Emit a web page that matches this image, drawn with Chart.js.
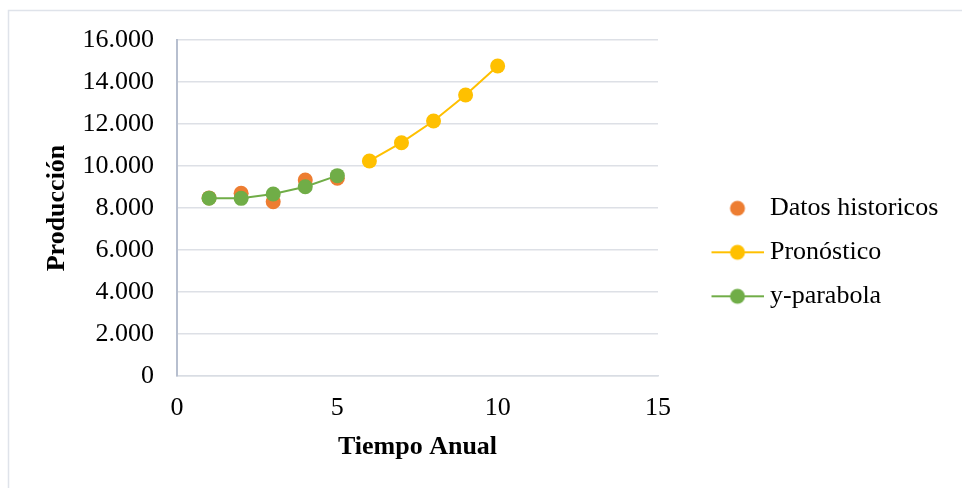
<!DOCTYPE html>
<html>
<head>
<meta charset="utf-8">
<script src="https://cdn.jsdelivr.net/npm/chart.js@4.4.1/dist/chart.umd.min.js"></script>
<style>
  html, body { margin: 0; padding: 0; background: #ffffff; }
  canvas { display: block; }
</style>
</head>
<body>
<canvas id="chart" width="962" height="488"></canvas>
<script>
// Series data
const historicYears   = [1, 2, 3, 4, 5];
const historicValues  = [8480, 8700, 8300, 9330, 9420];
const forecastYears   = [6, 7, 8, 9, 10];
const forecastValues  = [10240, 11110, 12140, 13380, 14760];
const parabolaYears   = [1, 2, 3, 4, 5];
const parabolaValues  = [8470, 8460, 8670, 9010, 9540];

// Labels
const seriesNames  = ['Datos historicos', 'Pronóstico', 'y-parabola'];
const yTickLabels  = ['0', '2.000', '4.000', '6.000', '8.000', '10.000', '12.000', '14.000', '16.000'];
const xTickLabels  = ['0', '5', '10', '15'];
const xAxisTitle   = 'Tiempo Anual';
const yAxisTitle   = 'Producción';

const COLORS = { historic: '#ED7D31', forecast: '#FFC000', parabola: '#70AD47' };
const FONT_FAMILY = "'Liberation Serif', 'Times New Roman', serif";
const FONT_SIZE = 26;

// Legend geometry
const LEGEND_PADDING = 18;
const LEGEND_SYMBOL_WIDTH = 81;
const PLOT_RIGHT = 658;

function toPoints(xs, ys) {
  return xs.map((x, i) => ({ x: x, y: ys[i] }));
}

// Legend symbols: a dot, or a short line with a dot in the middle
function legendMarker(color, withLine) {
  const c = document.createElement('canvas');
  c.width = 94; c.height = 20;
  const g = c.getContext('2d');
  if (withLine) {
    g.strokeStyle = color;
    g.lineWidth = 2;
    g.beginPath(); g.moveTo(42, 10); g.lineTo(94, 10); g.stroke();
  }
  g.fillStyle = color;
  g.beginPath(); g.arc(68, 10, 7.5, 0, Math.PI * 2); g.fill();
  return c;
}
const legendMarkers = [
  legendMarker(COLORS.historic, false),
  legendMarker(COLORS.forecast, true),
  legendMarker(COLORS.parabola, true)
];

// Width the legend box will take, so the plot keeps its right edge
const measureCtx = document.createElement('canvas').getContext('2d');
measureCtx.font = FONT_SIZE + 'px ' + FONT_FAMILY;
const widestLabel = Math.max(...seriesNames.map(s => measureCtx.measureText(s).width));
const legendWidth = LEGEND_PADDING + LEGEND_SYMBOL_WIDTH + FONT_SIZE / 2 + widestLabel + 10;
const rightPadding = Math.max(0, 962 - PLOT_RIGHT - legendWidth);

// Light frame around the chart
const framePlugin = {
  id: 'frame',
  beforeDraw(chart) {
    const ctx = chart.ctx;
    ctx.save();
    ctx.strokeStyle = '#dfe3ea';
    ctx.lineWidth = 1.5;
    ctx.beginPath();
    ctx.moveTo(8.5, chart.height);
    ctx.lineTo(8.5, 10.5);
    ctx.lineTo(chart.width, 10.5);
    ctx.stroke();
    ctx.restore();
  }
};

Chart.defaults.font.family = FONT_FAMILY;
Chart.defaults.font.size = FONT_SIZE;
Chart.defaults.color = '#000000';

new Chart(document.getElementById('chart'), {
  type: 'scatter',
  data: {
    datasets: [
      {
        label: seriesNames[0],
        data: toPoints(historicYears, historicValues),
        showLine: false,
        backgroundColor: COLORS.historic,
        borderColor: COLORS.historic,
        pointRadius: 7.5,
        pointBorderWidth: 0,
        order: 2
      },
      {
        label: seriesNames[1],
        data: toPoints(forecastYears, forecastValues),
        showLine: true,
        borderWidth: 2,
        backgroundColor: COLORS.forecast,
        borderColor: COLORS.forecast,
        pointRadius: 7.5,
        pointBorderWidth: 0,
        tension: 0,
        order: 1
      },
      {
        label: seriesNames[2],
        data: toPoints(parabolaYears, parabolaValues),
        showLine: true,
        borderWidth: 2,
        backgroundColor: COLORS.parabola,
        borderColor: COLORS.parabola,
        pointRadius: 7.5,
        pointBorderWidth: 0,
        tension: 0,
        order: 0
      }
    ]
  },
  options: {
    responsive: false,
    devicePixelRatio: 1,
    animation: false,
    events: [],
    layout: { padding: { left: 20, right: rightPadding, top: 40, bottom: 23.4 } },
    plugins: {
      tooltip: { enabled: false },
      legend: {
        position: 'right',
        maxWidth: 400,
        labels: {
          usePointStyle: true,
          pointStyleWidth: LEGEND_SYMBOL_WIDTH,
          padding: LEGEND_PADDING,
          font: { size: FONT_SIZE, family: FONT_FAMILY },
          color: '#000000',
          generateLabels(chart) {
            const items = Chart.defaults.plugins.legend.labels.generateLabels(chart);
            items.sort((a, b) => a.datasetIndex - b.datasetIndex);
            items.forEach(it => { it.pointStyle = legendMarkers[it.datasetIndex]; });
            return items;
          }
        }
      }
    },
    scales: {
      x: {
        type: 'linear',
        min: 0,
        max: 15,
        afterFit(scale) { scale.height = 88.6; },
        ticks: {
          stepSize: 5,
          padding: 17,
          maxRotation: 0,
          font: { size: FONT_SIZE },
          callback: (v, i) => xTickLabels[i]
        },
        grid: { display: false, drawTicks: false },
        border: { display: true, color: '#d9dde4', width: 1.5 },
        title: {
          display: true,
          text: xAxisTitle,
          font: { size: FONT_SIZE, weight: 'bold' },
          padding: { top: 0, bottom: 2 }
        }
      },
      y: {
        type: 'linear',
        min: 0,
        max: 16000,
        afterFit(scale) { scale.width = 157; },
        ticks: {
          stepSize: 2000,
          padding: 23,
          font: { size: FONT_SIZE },
          callback: (v, i) => yTickLabels[i]
        },
        grid: { color: '#dde0e6', lineWidth: 1.5, drawTicks: false },
        border: { display: true, color: '#b7bfcf', width: 2 },
        title: {
          display: true,
          text: yAxisTitle,
          font: { size: FONT_SIZE, weight: 'bold' },
          padding: { top: 22, bottom: 0 }
        }
      }
    }
  },
  plugins: [framePlugin]
});
</script>
</body>
</html>
